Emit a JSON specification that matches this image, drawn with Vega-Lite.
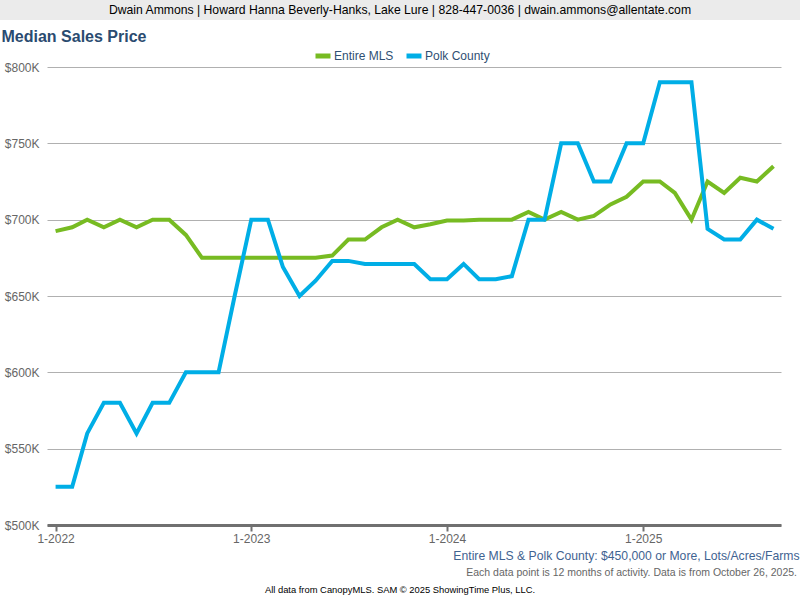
{
  "$schema": "https://vega.github.io/schema/vega-lite/v6.json",
  "padding": 0,
  "background": "white",
  "spacing": 8,
  "resolve": {"legend": {"color": "independent"}},
  "config": {"font": "Liberation Sans", "view": {"stroke": null}},
  "title": {"text": "All data from CanopyMLS. SAM © 2025 ShowingTime Plus, LLC.", "orient": "bottom", "anchor": "middle", "fontSize": 9.4, "fontWeight": "normal", "color": "#000000", "offset": 7},
  "vconcat": [
    {
      "width": 800,
      "height": 20,
      "view": {"fill": "#ebebeb", "stroke": null},
      "data": {"values": [{"t": "Dwain Ammons | Howard Hanna Beverly-Hanks, Lake Lure | 828-447-0036 | dwain.ammons@allentate.com"}]},
      "mark": {"type": "text", "fontSize": 12.2, "color": "#000000"},
      "encoding": {"text": {"field": "t", "type": "nominal"}}
    },
    {
      "spacing": 0,
      "resolve": {"legend": {"color": "independent"}},
      "hconcat": [
        {
          "width": 1,
          "height": 1,
          "data": {"values": []},
          "mark": {"type": "point", "opacity": 0},
          "encoding": {}
        },
        {
          "width": 734,
          "height": 458,
          "title": {"text": "Each data point is 12 months of activity. Data is from October 26, 2025.", "orient": "bottom", "anchor": "end", "frame": "group", "dx": 16, "fontSize": 10.5, "fontWeight": "normal", "color": "#666666", "offset": 7},
          "data": {"values": [
            {"date": "2022-01-01T00:00:00", "series": "Entire MLS", "price": 692500},
            {"date": "2022-02-01T00:00:00", "series": "Entire MLS", "price": 695000},
            {"date": "2022-03-01T00:00:00", "series": "Entire MLS", "price": 700000},
            {"date": "2022-04-01T00:00:00", "series": "Entire MLS", "price": 695000},
            {"date": "2022-05-01T00:00:00", "series": "Entire MLS", "price": 700000},
            {"date": "2022-06-01T00:00:00", "series": "Entire MLS", "price": 695000},
            {"date": "2022-07-01T00:00:00", "series": "Entire MLS", "price": 700000},
            {"date": "2022-08-01T00:00:00", "series": "Entire MLS", "price": 700000},
            {"date": "2022-09-01T00:00:00", "series": "Entire MLS", "price": 690000},
            {"date": "2022-10-01T00:00:00", "series": "Entire MLS", "price": 675000},
            {"date": "2022-11-01T00:00:00", "series": "Entire MLS", "price": 675000},
            {"date": "2022-12-01T00:00:00", "series": "Entire MLS", "price": 675000},
            {"date": "2023-01-01T00:00:00", "series": "Entire MLS", "price": 675000},
            {"date": "2023-02-01T00:00:00", "series": "Entire MLS", "price": 675000},
            {"date": "2023-03-01T00:00:00", "series": "Entire MLS", "price": 675000},
            {"date": "2023-04-01T00:00:00", "series": "Entire MLS", "price": 675000},
            {"date": "2023-05-01T00:00:00", "series": "Entire MLS", "price": 675000},
            {"date": "2023-06-01T00:00:00", "series": "Entire MLS", "price": 676500},
            {"date": "2023-07-01T00:00:00", "series": "Entire MLS", "price": 687000},
            {"date": "2023-08-01T00:00:00", "series": "Entire MLS", "price": 687000},
            {"date": "2023-09-01T00:00:00", "series": "Entire MLS", "price": 695000},
            {"date": "2023-10-01T00:00:00", "series": "Entire MLS", "price": 700000},
            {"date": "2023-11-01T00:00:00", "series": "Entire MLS", "price": 695000},
            {"date": "2023-12-01T00:00:00", "series": "Entire MLS", "price": 697000},
            {"date": "2024-01-01T00:00:00", "series": "Entire MLS", "price": 699500},
            {"date": "2024-02-01T00:00:00", "series": "Entire MLS", "price": 699500},
            {"date": "2024-03-01T00:00:00", "series": "Entire MLS", "price": 700000},
            {"date": "2024-04-01T00:00:00", "series": "Entire MLS", "price": 700000},
            {"date": "2024-05-01T00:00:00", "series": "Entire MLS", "price": 700000},
            {"date": "2024-06-01T00:00:00", "series": "Entire MLS", "price": 705000},
            {"date": "2024-07-01T00:00:00", "series": "Entire MLS", "price": 700000},
            {"date": "2024-08-01T00:00:00", "series": "Entire MLS", "price": 705000},
            {"date": "2024-09-01T00:00:00", "series": "Entire MLS", "price": 700000},
            {"date": "2024-10-01T00:00:00", "series": "Entire MLS", "price": 702500},
            {"date": "2024-11-01T00:00:00", "series": "Entire MLS", "price": 710000},
            {"date": "2024-12-01T00:00:00", "series": "Entire MLS", "price": 715000},
            {"date": "2025-01-01T00:00:00", "series": "Entire MLS", "price": 725000},
            {"date": "2025-02-01T00:00:00", "series": "Entire MLS", "price": 725000},
            {"date": "2025-03-01T00:00:00", "series": "Entire MLS", "price": 717500},
            {"date": "2025-04-01T00:00:00", "series": "Entire MLS", "price": 700000},
            {"date": "2025-05-01T00:00:00", "series": "Entire MLS", "price": 725000},
            {"date": "2025-06-01T00:00:00", "series": "Entire MLS", "price": 717500},
            {"date": "2025-07-01T00:00:00", "series": "Entire MLS", "price": 727500},
            {"date": "2025-08-01T00:00:00", "series": "Entire MLS", "price": 725000},
            {"date": "2025-09-01T00:00:00", "series": "Entire MLS", "price": 735000},
            {"date": "2022-01-01T00:00:00", "series": "Polk County", "price": 525000},
            {"date": "2022-02-01T00:00:00", "series": "Polk County", "price": 525000},
            {"date": "2022-03-01T00:00:00", "series": "Polk County", "price": 560000},
            {"date": "2022-04-01T00:00:00", "series": "Polk County", "price": 580000},
            {"date": "2022-05-01T00:00:00", "series": "Polk County", "price": 580000},
            {"date": "2022-06-01T00:00:00", "series": "Polk County", "price": 560000},
            {"date": "2022-07-01T00:00:00", "series": "Polk County", "price": 580000},
            {"date": "2022-08-01T00:00:00", "series": "Polk County", "price": 580000},
            {"date": "2022-09-01T00:00:00", "series": "Polk County", "price": 600000},
            {"date": "2022-10-01T00:00:00", "series": "Polk County", "price": 600000},
            {"date": "2022-11-01T00:00:00", "series": "Polk County", "price": 600000},
            {"date": "2022-12-01T00:00:00", "series": "Polk County", "price": 650000},
            {"date": "2023-01-01T00:00:00", "series": "Polk County", "price": 700000},
            {"date": "2023-02-01T00:00:00", "series": "Polk County", "price": 700000},
            {"date": "2023-03-01T00:00:00", "series": "Polk County", "price": 669000},
            {"date": "2023-04-01T00:00:00", "series": "Polk County", "price": 650000},
            {"date": "2023-05-01T00:00:00", "series": "Polk County", "price": 660000},
            {"date": "2023-06-01T00:00:00", "series": "Polk County", "price": 673000},
            {"date": "2023-07-01T00:00:00", "series": "Polk County", "price": 673000},
            {"date": "2023-08-01T00:00:00", "series": "Polk County", "price": 671000},
            {"date": "2023-09-01T00:00:00", "series": "Polk County", "price": 671000},
            {"date": "2023-10-01T00:00:00", "series": "Polk County", "price": 671000},
            {"date": "2023-11-01T00:00:00", "series": "Polk County", "price": 671000},
            {"date": "2023-12-01T00:00:00", "series": "Polk County", "price": 661000},
            {"date": "2024-01-01T00:00:00", "series": "Polk County", "price": 661000},
            {"date": "2024-02-01T00:00:00", "series": "Polk County", "price": 671000},
            {"date": "2024-03-01T00:00:00", "series": "Polk County", "price": 661000},
            {"date": "2024-04-01T00:00:00", "series": "Polk County", "price": 661000},
            {"date": "2024-05-01T00:00:00", "series": "Polk County", "price": 663000},
            {"date": "2024-06-01T00:00:00", "series": "Polk County", "price": 700000},
            {"date": "2024-07-01T00:00:00", "series": "Polk County", "price": 700000},
            {"date": "2024-08-01T00:00:00", "series": "Polk County", "price": 750000},
            {"date": "2024-09-01T00:00:00", "series": "Polk County", "price": 750000},
            {"date": "2024-10-01T00:00:00", "series": "Polk County", "price": 725000},
            {"date": "2024-11-01T00:00:00", "series": "Polk County", "price": 725000},
            {"date": "2024-12-01T00:00:00", "series": "Polk County", "price": 750000},
            {"date": "2025-01-01T00:00:00", "series": "Polk County", "price": 750000},
            {"date": "2025-02-01T00:00:00", "series": "Polk County", "price": 790000},
            {"date": "2025-03-01T00:00:00", "series": "Polk County", "price": 790000},
            {"date": "2025-04-01T00:00:00", "series": "Polk County", "price": 790000},
            {"date": "2025-05-01T00:00:00", "series": "Polk County", "price": 694000},
            {"date": "2025-06-01T00:00:00", "series": "Polk County", "price": 687000},
            {"date": "2025-07-01T00:00:00", "series": "Polk County", "price": 687000},
            {"date": "2025-08-01T00:00:00", "series": "Polk County", "price": 700000},
            {"date": "2025-09-01T00:00:00", "series": "Polk County", "price": 694000}
          ]},
          "mark": {"type": "line", "strokeWidth": 4},
          "encoding": {
            "x": {
              "field": "date", "type": "temporal",
              "scale": {"domain": [{"year": 2021, "month": 12, "date": 16}, {"year": 2025, "month": 9, "date": 15}]},
              "axis": {
                "values": [{"year": 2022, "month": 1, "date": 1}, {"year": 2023, "month": 1, "date": 1}, {"year": 2024, "month": 1, "date": 1}, {"year": 2025, "month": 1, "date": 1}],
                "format": "%-m-%Y",
                "grid": false,
                "labelFontSize": 12, "labelColor": "#666666", "labelPadding": 2,
                "domainColor": "#707070", "domainWidth": 3,
                "tickColor": "#707070", "tickWidth": 2, "tickSize": 6,
                "title": "Entire MLS & Polk County: $450,000 or More, Lots/Acres/Farms",
                "titleFontSize": 12.2, "titleFontWeight": "normal", "titleColor": "#3f6391",
                "titleAlign": "right", "titleBaseline": "alphabetic", "titleX": 752, "titleY": 34
              }
            },
            "y": {
              "field": "price", "type": "quantitative",
              "scale": {"domain": [500000, 800000], "nice": false, "zero": false},
              "axis": {
                "values": [500000, 550000, 600000, 650000, 700000, 750000, 800000],
                "labelExpr": "'$' + format(datum.value / 1000, 'd') + 'K'",
                "ticks": false, "domain": false, "labelPadding": 8,
                "labelFontSize": 12, "labelColor": "#666666",
                "gridColor": "#b0b0b0", "gridWidth": 1,
                "title": "Median Sales Price",
                "titleAngle": 0, "titleAlign": "left", "titleBaseline": "alphabetic",
                "titleX": -46, "titleY": -26,
                "titleFontSize": 16, "titleFontWeight": "bold", "titleColor": "#2a4b70"
              }
            },
            "color": {
              "field": "series", "type": "nominal",
              "scale": {"domain": ["Entire MLS", "Polk County"], "range": ["#77bb22", "#00aee6"]},
              "legend": {
                "orient": "none", "legendX": 266, "legendY": -21, "direction": "horizontal", "title": null,
                "symbolType": "stroke", "symbolSize": 225, "symbolStrokeWidth": 5,
                "labelFontSize": 12, "labelColor": "#2f4f73", "labelOffset": 1, "columnPadding": 2
              }
            }
          }
        }
      ]
    }
  ]
}
